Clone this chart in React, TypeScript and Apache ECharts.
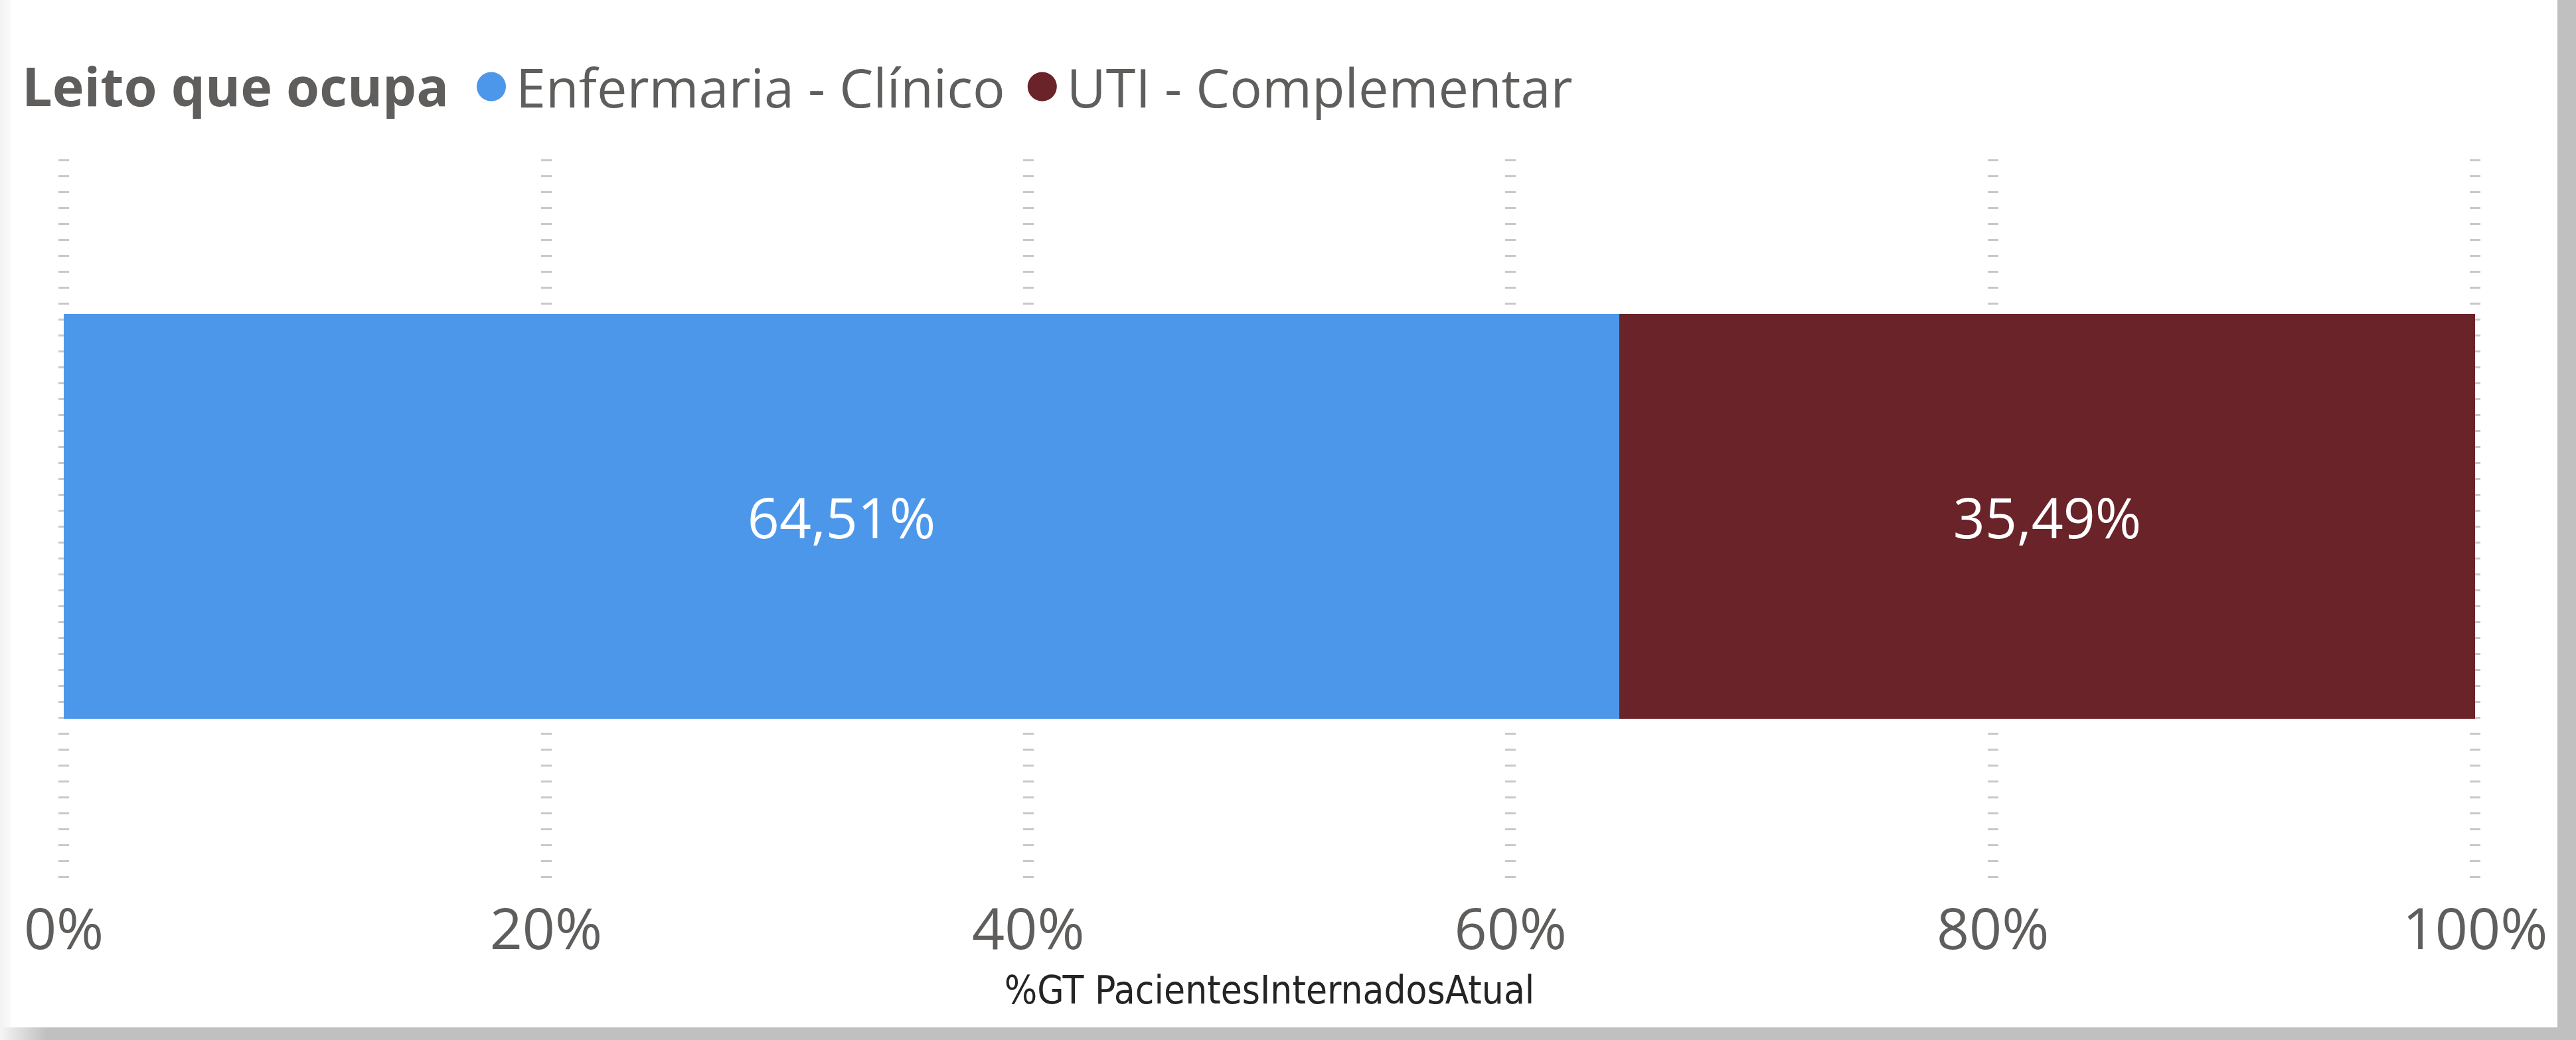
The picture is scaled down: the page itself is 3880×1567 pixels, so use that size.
import React, { useEffect, useRef } from "react";
import * as echarts from "echarts";

const categories = ["Total"];
const seriesNames = ["Enfermaria - Clínico", "UTI - Complementar"];
const enfermariaValues = [64.51];
const utiValues = [35.49];
const xTicks = [0, 20, 40, 60, 80, 100];
const seriesColors = ["#4D97EB", "#6A2328"];
const legendTitle = "Leito que ocupa";
const axisName = "%GT PacientesInternadosAtual";

const FONT = "'Segoe UI', 'Open Sans', sans-serif";
const NAME_FONT = "'Liberation Sans Narrow', 'DejaVu Sans Condensed', 'Roboto', sans-serif";
const GRAY = "#605E5C";

export default function App() {
  const ref = useRef<HTMLDivElement>(null);

  useEffect(() => {
    if (!ref.current) return;
    const chart = echarts.init(ref.current, null, { renderer: "svg" });
    const fmtPct = (v: number) => v.toFixed(2).replace(".", ",") + "%";
    const option = {
      animation: false,
      title: {
        text: legendTitle,
        left: 28,
        top: 83,
        textStyle: { fontFamily: FONT, fontWeight: "bold", fontSize: 81, color: GRAY },
      },
      legend: {
        data: seriesNames,
        left: 713,
        top: 85,
        icon: "circle",
        itemWidth: 44,
        itemHeight: 44,
        itemGap: 34,
        textStyle: { fontFamily: FONT, fontSize: 81, color: GRAY, padding: [0, 0, 0, 10] },
      },
      grid: [
        { left: 96, right: 152, top: 240, bottom: 240 },
        { left: 96, right: 152, top: 473, height: 610 },
      ],
      xAxis: [
        {
          type: "value",
          gridIndex: 0,
          min: xTicks[0],
          max: xTicks[xTicks.length - 1],
          interval: 20,
          axisLine: { show: false },
          axisTick: { show: false },
          splitLine: {
            show: true,
            lineStyle: { color: "#C8C8C8", width: 16, type: [3, 21] },
          },
          axisLabel: {
            fontFamily: FONT,
            fontSize: 86,
            color: GRAY,
            margin: 26,
            formatter: (v: number) => v + "%",
          },
          name: axisName,
          nameLocation: "middle",
          nameGap: 136,
          nameTextStyle: { fontFamily: NAME_FONT, fontSize: 58, color: "#252423" },
        },
        {
          type: "value",
          gridIndex: 1,
          min: 0,
          max: 100,
          show: false,
          splitLine: { show: false },
        },
      ],
      yAxis: [
        { type: "category", gridIndex: 0, data: categories, show: false },
        { type: "category", gridIndex: 1, data: categories, show: false, boundaryGap: true },
      ],
      series: [
        {
          name: seriesNames[0],
          type: "bar",
          stack: "total",
          xAxisIndex: 1,
          yAxisIndex: 1,
          barWidth: "100%",
          data: enfermariaValues,
          itemStyle: { color: seriesColors[0] },
          label: {
            show: true,
            position: "inside",
            color: "#FFFFFF",
            fontFamily: FONT,
            fontSize: 84,
            formatter: (p: any) => fmtPct(p.value),
          },
        },
        {
          name: seriesNames[1],
          type: "bar",
          stack: "total",
          xAxisIndex: 1,
          yAxisIndex: 1,
          barWidth: "100%",
          data: utiValues,
          itemStyle: { color: seriesColors[1] },
          label: {
            show: true,
            position: "inside",
            color: "#FFFFFF",
            fontFamily: FONT,
            fontSize: 84,
            formatter: (p: any) => fmtPct(p.value),
          },
        },
      ],
    };
    chart.setOption(option);
    return () => chart.dispose();
  }, []);

  return (
    <div style={{ position: "fixed", left: 0, top: 0, width: 3880, height: 1567, background: "#C0C0C0", overflow: "hidden" }}>
      <div style={{ position: "absolute", left: 0, top: 0, width: 16, height: 1567, background: "linear-gradient(to right, #f2f2f2, #fafafa)" }} />
      <div style={{ position: "absolute", left: 0, top: 1548, width: 70, height: 19, background: "linear-gradient(to right, #f5f5f5, #C0C0C0)" }} />
      <div style={{ position: "absolute", left: 16, top: 0, width: 3836, height: 1548, background: "#FFFFFF" }} />
      <div ref={ref} style={{ position: "absolute", left: 0, top: 0, width: 3880, height: 1567 }} />
    </div>
  );
}
